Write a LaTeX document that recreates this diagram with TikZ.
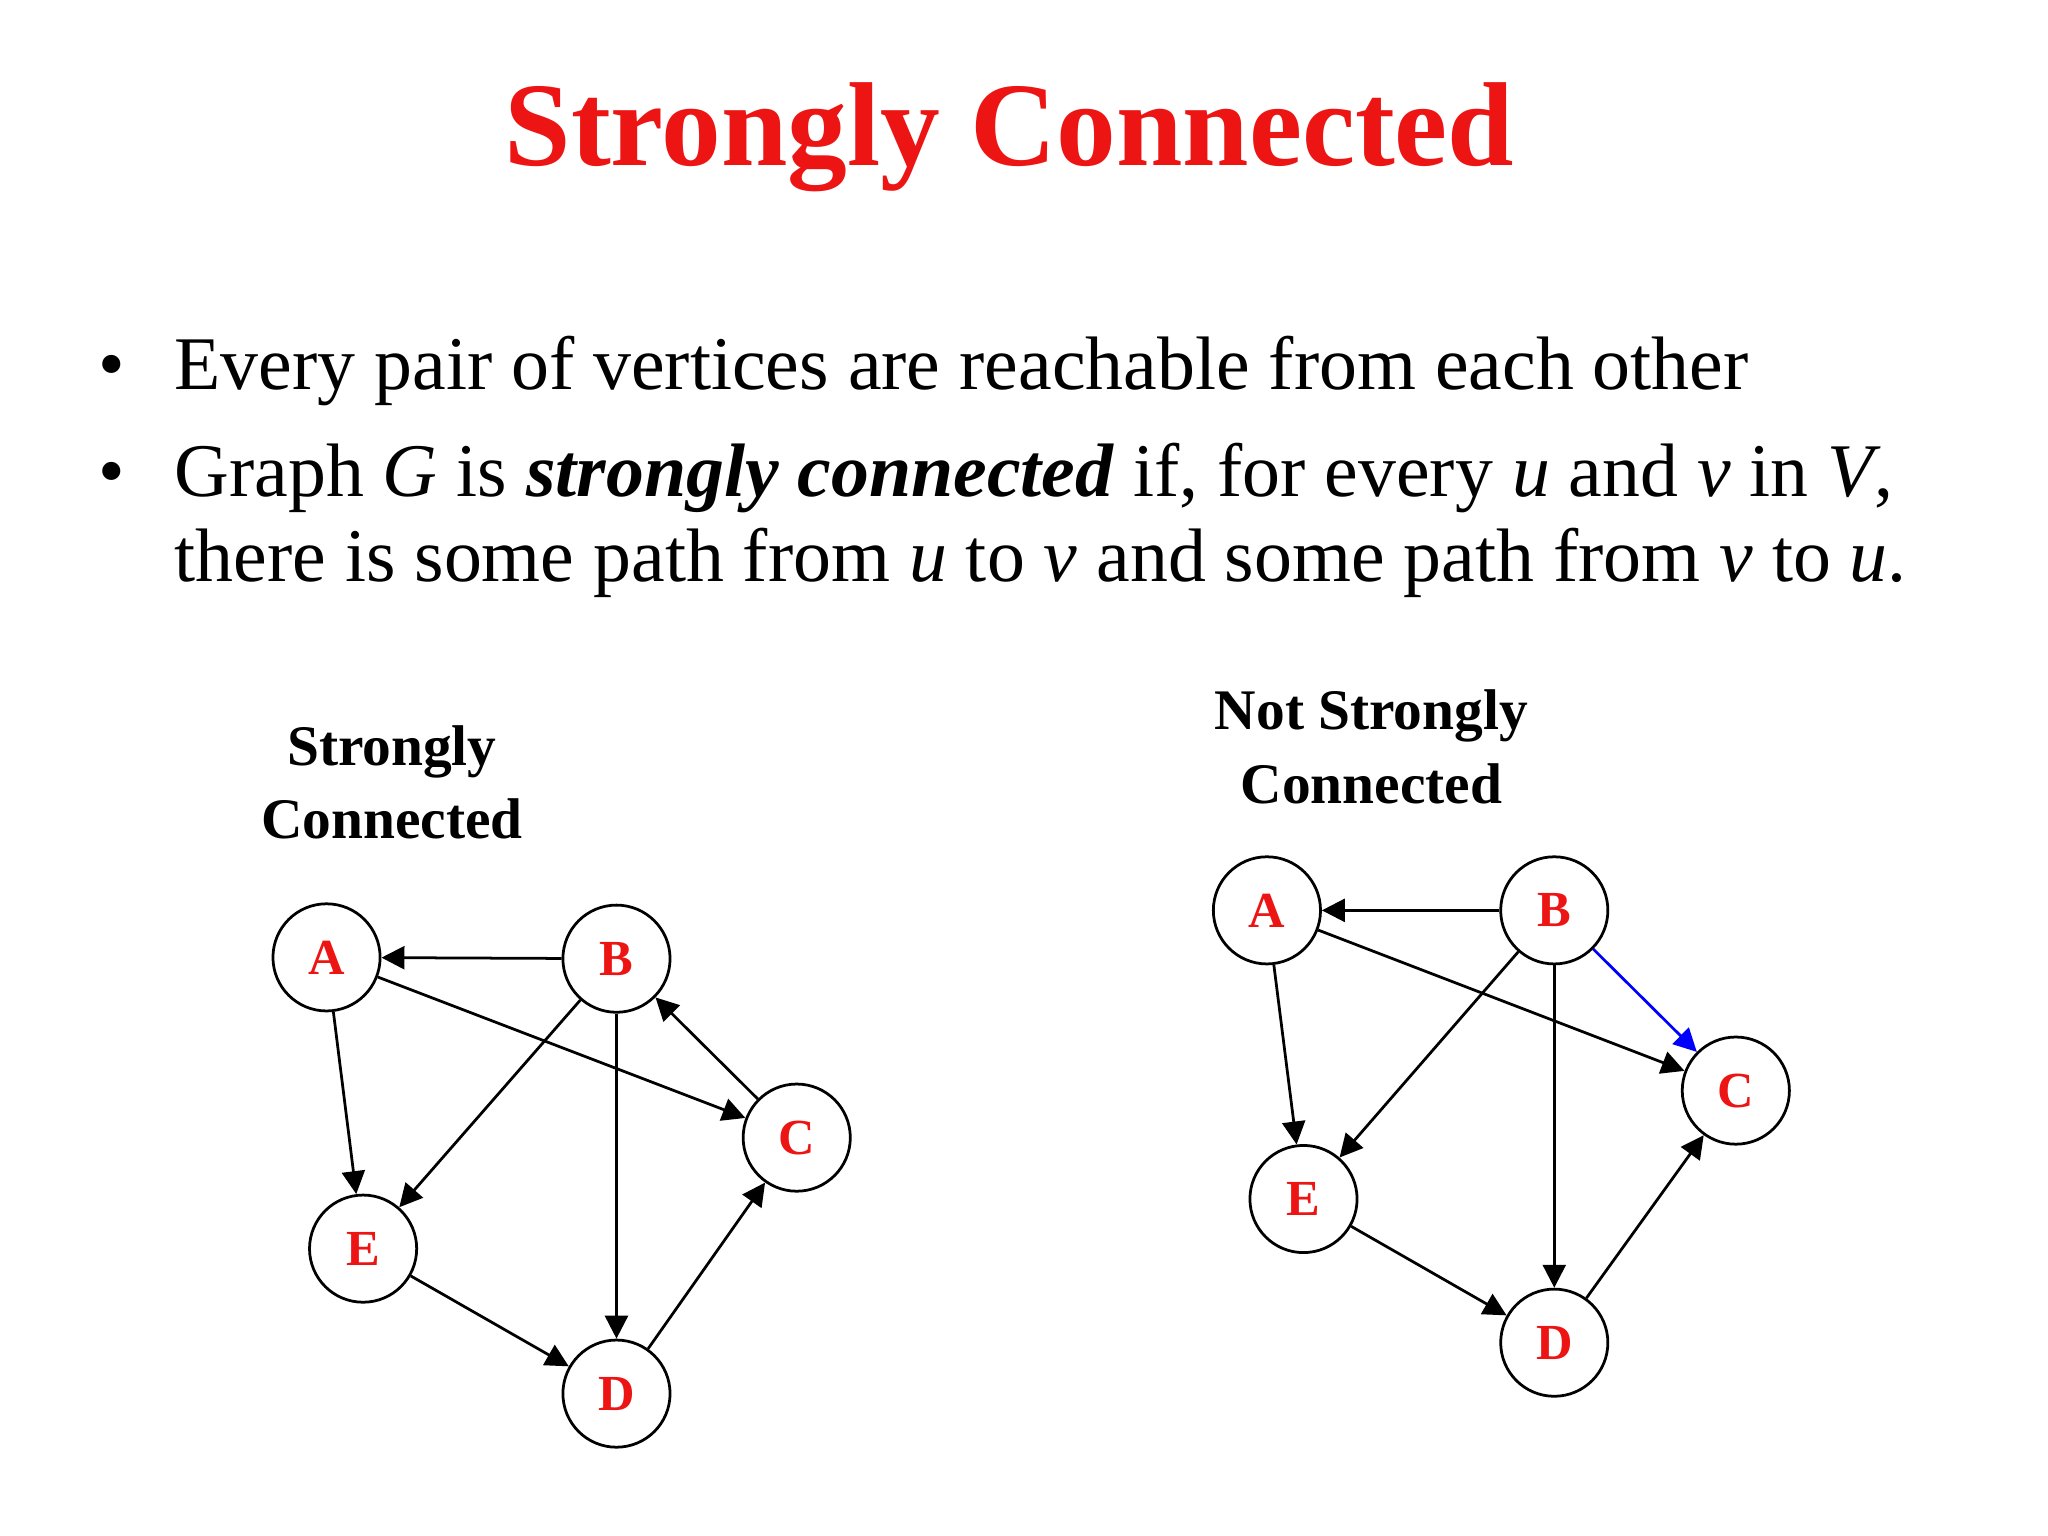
\documentclass[tikz,border=0pt]{standalone}
\usepackage{fontspec}
\setmainfont{Liberation Serif}
\usetikzlibrary{arrows.meta}
\definecolor{tred}{RGB}{237,20,20}
\begin{document}
\begin{tikzpicture}[x=0.01cm,y=-0.01cm,
  vtx/.style={circle,draw,line width=0.6pt,minimum size=0.82cm,inner sep=0pt,font=\fontsize{11}{11}\selectfont\bfseries,text=tred},
  edge/.style={line width=0.6pt,-{Triangle[length=5pt,width=5pt]}},
  gcap/.style={font=\fontsize{12.5}{16}\selectfont\bfseries,align=center},
  txt/.style={anchor=base west,inner sep=0pt,font=\fontsize{16.5}{20}\selectfont}]
\useasboundingbox (0,0) rectangle (1568,1176);
\node[font=\fontsize{26}{30}\selectfont\bfseries,text=tred] (title) at (773,105) {Strongly Connected};
\node[txt] (b1) at (75,298) {•};
\node[txt] (l1) at (133,298) {Every pair of vertices are reachable from each other};
\node[txt] (b2) at (75,380) {•};
\node[txt] (l2) at (133,380) {Graph \textit{G} is \textbf{\textit{strongly connected}} if, for every \textit{u} and \textit{v} in \textit{V},};
\node[txt] (l3) at (133,445) {there is some path from \textit{u} to \textit{v} and some path from \textit{v} to \textit{u}.};
\node[gcap] (c1) at (300,599) {Strongly\\Connected};
\node[gcap] (c2) at (1050,572) {Not Strongly\\Connected};
% left graph
\node[vtx] (A) at (250,733) {A};
\node[vtx] (B) at (472,734) {B};
\node[vtx] (C) at (610,871) {C};
\node[vtx] (E) at (278,956) {E};
\node[vtx] (D) at (472,1067) {D};
\draw[edge] (B) -- (A);
\draw[edge] (A) -- (E);
\draw[edge] (A) -- (C);
\draw[edge] (B) -- (E);
\draw[edge] (B) -- (D);
\draw[edge] (E) -- (D);
\draw[edge] (D) -- (C);
\draw[edge] (C) -- (B);
% right graph
\node[vtx] (A2) at (970,697) {A};
\node[vtx] (B2) at (1190,697) {B};
\node[vtx] (C2) at (1329,835) {C};
\node[vtx] (E2) at (998,918) {E};
\node[vtx] (D2) at (1190,1028) {D};
\draw[edge] (B2) -- (A2);
\draw[edge] (A2) -- (E2);
\draw[edge] (A2) -- (C2);
\draw[edge] (B2) -- (E2);
\draw[edge] (B2) -- (D2);
\draw[edge,blue] (B2) -- (C2);
\draw[edge] (E2) -- (D2);
\draw[edge] (D2) -- (C2);
\end{tikzpicture}
\end{document}
